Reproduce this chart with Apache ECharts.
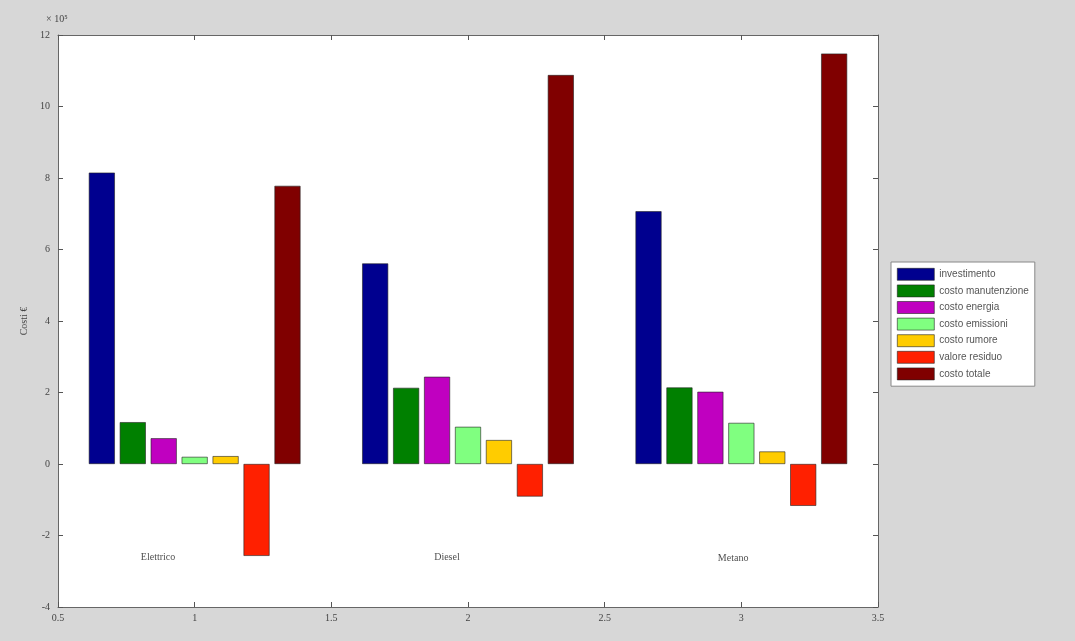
<!DOCTYPE html>
<html>
<head>
<meta charset="utf-8">
<script src="https://cdn.jsdelivr.net/npm/echarts@6/dist/echarts.min.js"></script>
<style>
html,body{margin:0;padding:0;background:#d7d7d7;}
#c{width:1075px;height:641px;}
</style>
</head>
<body>
<div id="c"></div>
<script>
// x positions of the three groups (MATLAB bar x = 1,2,3)
const groupX = [1, 2, 3];
const groupNames = ['Elettrico', 'Diesel', 'Metano'];
// text annotation positions (data coords)
const labelX = [0.866, 1.923, 2.97];
const labelY = [-2.6, -2.6, -2.65];

const seriesNames = ['investimento', 'costo manutenzione', 'costo energia', 'costo emissioni', 'costo rumore', 'valore residuo', 'costo totale'];
const seriesColors = ['#00008f', '#008000', '#c000c0', '#80ff80', '#ffcc00', '#ff2000', '#800000'];

// values in units of 10^5 €
const investimento      = [8.15, 5.61, 7.07];
const costoManutenzione = [1.17, 2.13, 2.14];
const costoEnergia      = [0.72, 2.44, 2.02];
const costoEmissioni    = [0.20, 1.04, 1.15];
const costoRumore       = [0.22, 0.67, 0.35];
const valoreResiduo     = [-2.57, -0.91, -1.17];
const costoTotale       = [7.78, 10.88, 11.48];
const allValues = [investimento, costoManutenzione, costoEnergia, costoEmissioni, costoRumore, valoreResiduo, costoTotale];

const xTicks = [0.5, 1, 1.5, 2, 2.5, 3, 3.5];
const yTicks = [-4, -2, 0, 2, 4, 6, 8, 10, 12];

const chart = echarts.init(document.getElementById('c'));

const tickStyle = {show: true, inside: true, length: 5, lineStyle: {color: '#555', width: 1}};
const lineStyle = {show: true, onZero: false, lineStyle: {color: '#666', width: 1}};
const labelStyle = {color: '#444', fontSize: 10, fontFamily: 'Liberation Serif'};

const series = allValues.map((vals, i) => ({
  name: seriesNames[i],
  type: 'bar',
  barWidth: 26,
  barGap: '19%',
  itemStyle: {color: seriesColors[i], borderColor: '#222', borderWidth: 0.6},
  data: groupX.map((x, j) => [x, vals[j]]),
  xAxisIndex: 0,
  yAxisIndex: 0
}));

series.push({
  type: 'scatter',
  symbolSize: 0,
  silent: true,
  data: groupNames.map((n, j) => ({value: [labelX[j], labelY[j]], name: n})),
  label: {show: true, position: 'inside', formatter: p => p.name, color: '#222', fontSize: 10, fontFamily: 'Liberation Serif'},
  xAxisIndex: 0,
  yAxisIndex: 0
});

chart.setOption({
  backgroundColor: '#d7d7d7',
  animation: false,
  grid: {left: 58, right: 197, top: 35, bottom: 34, show: true, backgroundColor: '#ffffff', borderWidth: 0},
  legend: {
    orient: 'vertical',
    left: 891,
    top: 262,
    data: seriesNames,
    icon: 'rect',
    itemWidth: 37,
    itemHeight: 12,
    itemGap: 4,
    padding: [6, 6, 6, 6],
    backgroundColor: '#ffffff',
    borderColor: '#888',
    borderWidth: 1,
    textStyle: {fontSize: 10, color: '#555', fontFamily: 'Liberation Sans'},
    itemStyle: {borderColor: '#222', borderWidth: 0.6}
  },
  xAxis: [{
    type: 'value', min: 0.5, max: 3.5, interval: 0.5,
    axisLine: lineStyle, axisTick: tickStyle, splitLine: {show: false},
    axisLabel: Object.assign({margin: 6, formatter: v => String(v)}, labelStyle)
  }, {
    type: 'value', position: 'top', min: 0.5, max: 3.5, interval: 0.5,
    axisLine: lineStyle, axisTick: tickStyle, splitLine: {show: false}, axisLabel: {show: false}
  }],
  yAxis: [{
    type: 'value', min: -4, max: 12, interval: 2,
    name: 'Costi €', nameLocation: 'middle', nameGap: 24, nameRotate: 90,
    nameTextStyle: {color: '#444', fontSize: 10, fontFamily: 'Liberation Serif'},
    axisLine: lineStyle, axisTick: tickStyle, splitLine: {show: false},
    axisLabel: Object.assign({margin: 8}, labelStyle)
  }, {
    type: 'value', position: 'right', min: -4, max: 12, interval: 2,
    axisLine: lineStyle, axisTick: tickStyle, splitLine: {show: false}, axisLabel: {show: false}
  }],
  graphic: [{
    type: 'text', left: 46, top: 14,
    style: {text: '× 10⁵', fill: '#444', fontSize: 10, fontFamily: 'Liberation Serif'}
  }],
  series: series
});
</script>
</body>
</html>
